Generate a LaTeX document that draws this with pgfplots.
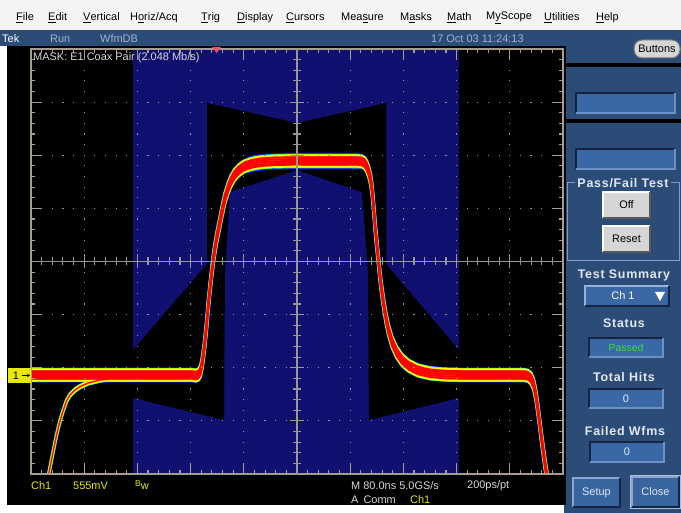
\documentclass[border=0pt]{standalone}
\usepackage{fontspec}
\setmainfont{Liberation Sans}
\usepackage{pgfplots}
\pgfplotsset{compat=1.18}
\usepackage{pgfplotstable}
\usetikzlibrary{arrows.meta}

\definecolor{panel}{RGB}{44,76,120}
\definecolor{fieldbox}{RGB}{58,104,166}
\definecolor{fielddark}{RGB}{20,36,66}
\definecolor{fieldlight}{RGB}{110,145,196}
\definecolor{maskblue}{RGB}{16,16,112}
\definecolor{framecol}{RGB}{166,158,140}
\definecolor{crosscol}{RGB}{150,150,150}
\definecolor{dotcol}{RGB}{150,150,150}
\definecolor{scryellow}{RGB}{232,232,0}
\definecolor{scrtext}{RGB}{215,215,215}
\definecolor{menubg}{RGB}{244,244,244}
\definecolor{tekdim}{RGB}{160,178,204}
\definecolor{btngrey}{RGB}{214,214,214}
\definecolor{trig}{RGB}{240,80,110}
\definecolor{passgreen}{RGB}{60,225,60}
\definecolor{groupline}{RGB}{130,156,196}
\definecolor{labtext}{RGB}{226,232,242}
\definecolor{wfblue}{RGB}{0,0,255}
\definecolor{wfcyan}{RGB}{0,230,255}
\definecolor{wfgreen}{RGB}{40,255,0}
\definecolor{wfyellow}{RGB}{255,255,0}
\definecolor{wforange}{RGB}{255,140,0}
\definecolor{wfred}{RGB}{255,0,0}

% main pulse trace (x, y in screen pixels; y grows downwards)
\pgfplotstableread[row sep=\\]{
x y\\
31 375\\ 80 375\\ 130 375\\ 170 375\\ 192 375\\ 196 375.5\\ 198.5 374.5\\
200.5 371\\ 202 364\\ 203.5 354\\ 205 341\\ 206.5 326\\ 208 308\\ 210 288\\
212 270\\ 213.5 258\\ 215 248\\ 216.5 239\\ 218.5 229\\ 220.5 219\\ 222.5 209\\
225 198\\ 228 188.5\\ 231 181\\ 234.5 175\\ 238.5 170.5\\ 244 166.5\\ 251 164\\
260 162.3\\ 272 161.4\\ 290 161\\ 320 161\\ 345 161\\ 358 161\\ 362 161.5\\
364.5 163\\ 366.5 166\\ 368.5 171\\ 370.5 179\\ 372 189\\ 373 200\\ 374 212\\
375 225\\ 376 236\\ 377 246\\ 378 256\\ 379 266\\ 380 276\\ 381 285\\ 382.5 296\\
384 306\\ 386 318\\ 388.5 330\\ 392 342\\ 396.5 352\\ 402 360\\ 409 366\\
418 370.5\\ 430 373.3\\ 445 374.6\\ 465 375\\ 500 375\\ 524 375\\ 528 375.8\\
531 378.5\\ 533.5 384\\ 535.5 393\\ 537.5 406\\ 539.5 422\\ 541.5 438\\
543.5 453\\ 545.5 467\\ 547.5 480\\
}\main

% flat top of the pulse (wider persistence band)
\pgfplotstableread[row sep=\\]{
x y\\
248 165\\ 256 163\\ 266 161.8\\ 290 161\\ 345 161\\ 360 161.2\\
}\topflat

% tail rising from the bottom on the left
\pgfplotstableread[row sep=\\]{
x y\\
46 485\\ 48 478\\ 49.5 470\\ 51.5 460\\ 53.5 450\\ 55.5 440\\ 57.5 431\\
60 421\\ 63 411\\ 66.5 401\\ 70 395\\ 75 390\\ 80 386.7\\ 88 383\\ 100 380\\
115 378\\ 133 376.5\\ 160 375.5\\ 180 375\\
}\tail

\newcommand{\band}[4]{%
  \pgfplotsinvokeforeach{#1}{%
    \addplot[draw=#2, line width=#3, yshift=##1bp, line cap=round, line join=round] table {#4};}}

\newcommand{\field}[4]{%
  \fill[fieldbox] (#1,#2) rectangle (#3,#4);
  \draw[fielddark, line width=1.2bp] (#1,#4) -- (#1,#2) -- (#3,#2);
  \draw[fieldlight, line width=1.2bp] (#3,#2) -- (#3,#4) -- (#1,#4);}
\newcommand{\greybtn}[4]{%
  \fill[btngrey] (#1,#2) rectangle (#3,#4);
  \draw[white, line width=1.2bp] (#1,#4) -- (#1,#2) -- (#3,#2);
  \draw[black!65, line width=1.4bp] (#3,#2) -- (#3,#4) -- (#1,#4);}
\newcommand{\bluebtn}[4]{%
  \fill[fieldbox!85!panel] (#1,#2) rectangle (#3,#4);
  \draw[fieldlight!80!white, line width=1.2bp] (#1,#4) -- (#1,#2) -- (#3,#2);
  \draw[fielddark, line width=1.4bp] (#3,#2) -- (#3,#4) -- (#1,#4);}

\newcommand{\scr}{\fontsize{11}{13}\selectfont}
\newcommand{\lab}{\fontsize{12.5}{14}\selectfont\bfseries\addfontfeatures{LetterSpace=6}}

\begin{document}
\begin{tikzpicture}
\useasboundingbox (0,0) rectangle (681bp,513bp);

% ---------- background / window frame ----------
\begin{scope}[x=1bp,y=-1bp,yshift=513bp]
\fill[white] (0,0) rectangle (681,513);
\fill[menubg] (0,0) rectangle (681,30);
\fill[panel] (0,30) rectangle (681,46);
\fill[panel] (564,30) rectangle (681,513);
\fill[black] (7,46) rectangle (566,505);
\end{scope}

% ---------- the scope screen ----------
\begin{axis}[
  at={(297bp,251.5bp)}, anchor=center,
  width=532bp, height=425bp, scale only axis,
  xmin=31, xmax=563, ymin=49, ymax=474, y dir=reverse,
  xtick={31,84.2,137.4,190.6,243.8,297,350.2,403.4,456.6,509.8,563},
  ytick={49,102.125,155.25,208.375,261.5,314.625,367.75,420.875,474},
  minor x tick num=4, minor y tick num=4,
  xticklabels={}, yticklabels={},
  tick align=inside,
  major tick length=11bp, minor tick length=4.5bp,
  tick style={draw=framecol, line width=1.1bp},
  axis line style={draw=framecol, line width=1.2bp},
  axis on top,
]
% mask
\addplot[fill=maskblue, draw=none] coordinates {(133,49) (459,49) (459,474) (133,474)} -- cycle;
\addplot[fill=black, draw=none] coordinates {
  (207,103) (297,123) (386,103) (386,264) (459,350) (459,398) (369,420)
  (368,270) (362,192) (297,170) (230,192) (225,270) (224,420) (133,398)
  (133,350) (207,264)} -- cycle;
% waveform persistence bands
\band{-6.8,6.8}{wfblue}{3bp}{\topflat}
\band{-6.2,6.2}{wfgreen}{2.4bp}{\topflat}
\band{-5.6,-3.7,-1.85,0,1.85,3.7,5.6}{wfblue}{3.6bp}{\main}
\band{-1.2,0,1.2}{wfblue}{3.6bp}{\tail}
\band{-5.6,-3.7,-1.85,0,1.85,3.7,5.6}{wfcyan}{3bp}{\main}
\band{-1.2,0,1.2}{wfcyan}{3bp}{\tail}
\band{-5.6,-3.7,-1.85,0,1.85,3.7,5.6}{wfgreen}{2.5bp}{\main}
\band{-1.2,0,1.2}{wfgreen}{2.5bp}{\tail}
\band{-5.6,-3.7,-1.85,0,1.85,3.7,5.6}{wfyellow}{2bp}{\main}
\band{-1.2,0,1.2}{wfyellow}{2bp}{\tail}
\band{-3.7,-1.85,0,1.85,3.7}{wforange}{2.3bp}{\main}
\band{0}{wforange}{1.7bp}{\tail}
\band{-3.7,-1.85,0,1.85,3.7}{wfred}{1.9bp}{\main}
\band{0}{wfred}{1.1bp}{\tail}
\end{axis}

% ---------- overlays ----------
\begin{scope}[x=1bp,y=-1bp,yshift=513bp]
% dotted graticule (one dot every fifth of a division)
\foreach \k in {1,2,3,4,6,7,8,9}{
  \pgfmathsetmacro\xx{31+53.2*\k}
  \foreach \m in {1,...,39}{
    \pgfmathsetmacro\yy{49+10.625*\m}
    \fill[dotcol] ({\xx-0.6},{\yy-0.6}) rectangle ({\xx+0.6},{\yy+0.6});
  }
}
\foreach \k in {1,2,3,5,6,7}{
  \pgfmathsetmacro\yy{49+53.125*\k}
  \foreach \m in {1,...,49}{
    \pgfmathsetmacro\xx{31+10.64*\m}
    \fill[dotcol] ({\xx-0.6},{\yy-0.6}) rectangle ({\xx+0.6},{\yy+0.6});
  }
}
% centre cross with ticks
\draw[crosscol, line width=1.3bp] (297,49) -- (297,474);
\draw[crosscol, line width=1.3bp] (31,261.5) -- (563,261.5);
\foreach \i in {1,...,49}{
  \pgfmathsetmacro\xx{31+10.64*\i}
  \pgfmathtruncatemacro\mm{mod(\i,5)}
  \ifnum\mm=0 \def\L{7}\else\def\L{4}\fi
  \draw[crosscol, line width=1.1bp] (\xx,{261.5-\L}) -- (\xx,{261.5+\L});
}
\foreach \j in {1,...,39}{
  \pgfmathsetmacro\yy{49+10.625*\j}
  \pgfmathtruncatemacro\mm{mod(\j,5)}
  \ifnum\mm=0 \def\L{7}\else\def\L{4}\fi
  \draw[crosscol, line width=1.1bp] ({297-\L},\yy) -- ({297+\L},\yy);
}
% trigger marker
\fill[trig] (212,47) -- (221,47) -- (216.5,53) -- cycle;
% channel marker
\fill[scryellow] (8,368) rectangle (31,383);
\node[anchor=center, text=black, inner sep=0] at (16,376) {\scr 1};
\draw[black, line width=1bp, -{Stealth[length=3bp,width=3.5bp]}] (21.5,375.5) -- (30,375.5);
% screen texts
\node[anchor=west, inner sep=0, text=scrtext] at (33,58) {\scr MASK: E1 Coax Pair (2.048 Mb/s)};
\node[anchor=west, inner sep=0, text=scryellow] at (31,486) {\scr Ch1};
\node[anchor=west, inner sep=0, text=scryellow] at (73,486) {\scr 555mV};
\node[anchor=west, inner sep=0, text=scryellow] at (135,485) {\fontsize{8.5}{8.5}\selectfont B\raisebox{-2.5bp}{\fontsize{11}{11}\selectfont w}};
\node[anchor=west, inner sep=0, text=scrtext] at (351,486) {\scr M 80.0ns 5.0GS/s};
\node[anchor=west, inner sep=0, text=scrtext] at (467,486) {\scr 200ps/pt};
\node[anchor=west, inner sep=0, text=scrtext] at (351,500) {\scr A\hspace{5bp}Comm};
\node[anchor=west, inner sep=0, text=scryellow] at (410,500) {\scr Ch1};
% menu bar
\foreach \x/\t in {16/{\underline{F}ile}, 48/{\underline{E}dit}, 83/{\underline{V}ertical},
  130/{H\underline{o}riz/Acq}, 201/{\underline{T}rig}, 237/{\underline{D}isplay},
  286/{\underline{C}ursors}, 341/{Mea\underline{s}ure}, 400/{M\underline{a}sks},
  447/{\underline{M}ath}, 486/{M\underline{y}Scope}, 544/{\underline{U}tilities}, 596/{\underline{H}elp}}{
  \node[anchor=west, inner sep=0, text=black] at (\x,18) {\scr \t};
}
% status bar
\node[anchor=west, inner sep=0, text=white] at (2,39) {\scr Tek};
\node[anchor=west, inner sep=0, text=tekdim] at (50,39) {\scr Run};
\node[anchor=west, inner sep=0, text=tekdim] at (100,39) {\scr WfmDB};
\node[anchor=west, inner sep=0, text=tekdim] at (431,39) {\scr 17 Oct 03 11:24:13};
% right panel
\fill[btngrey, draw=black!55, line width=1bp, rounded corners=8bp] (634,40) rectangle (680,58);
\node[text=black, inner sep=0] at (657,49) {\scr Buttons};
\fill[black] (566,63) rectangle (681,67);
\fill[black] (566,119) rectangle (681,123);
\field{576}{93}{675}{113}
\field{576}{149}{675}{169}
\draw[groupline, line width=1bp] (567,183) rectangle (679,261);
\node[fill=panel, text=labtext, inner xsep=2bp, inner ysep=1bp] at (623,183) {\lab Pass/Fail Test};
\greybtn{603}{192}{650}{218}
\node[text=black, inner sep=0] at (626.5,205) {\scr Off};
\greybtn{603}{226}{650}{252}
\node[text=black, inner sep=0] at (626.5,239) {\scr Reset};
\node[text=labtext, inner sep=0] at (624,275) {\lab Test Summary};
\fill[fieldbox] (585,286) rectangle (669,306);
\draw[fieldlight!70!white, line width=1.2bp] (585,306) -- (585,286) -- (669,286);
\draw[fielddark, line width=1.4bp] (669,286) -- (669,306) -- (585,306);
\node[text=white, inner sep=0] at (623,296) {\scr Ch 1};
\fill[white] (655,292) -- (665,292) -- (660,301) -- cycle;
\node[text=labtext, inner sep=0] at (624,323) {\lab Status};
\field{589}{338}{663}{357}
\node[text=passgreen, inner sep=0] at (626,347.5) {\fontsize{10.5}{12}\selectfont Passed};
\node[text=labtext, inner sep=0] at (624,377) {\lab Total Hits};
\field{589}{389}{663}{408}
\node[text=labtext, inner sep=0] at (626,398.5) {\scr 0};
\node[text=labtext, inner sep=0] at (625,431) {\lab Failed Wfms};
\field{590}{442}{664}{462}
\node[text=labtext, inner sep=0] at (627,452) {\scr 0};
\bluebtn{573}{478}{620}{507}
\node[text=labtext, inner sep=0] at (596.5,492.5) {\scr Setup};
\draw[fieldlight!60!white, line width=1.2bp] (630.5,475.5) rectangle (680.5,508.5);
\bluebtn{632}{477}{679}{507}
\node[text=labtext, inner sep=0] at (655.5,492) {\scr Close};
\end{scope}
\end{tikzpicture}
\end{document}
